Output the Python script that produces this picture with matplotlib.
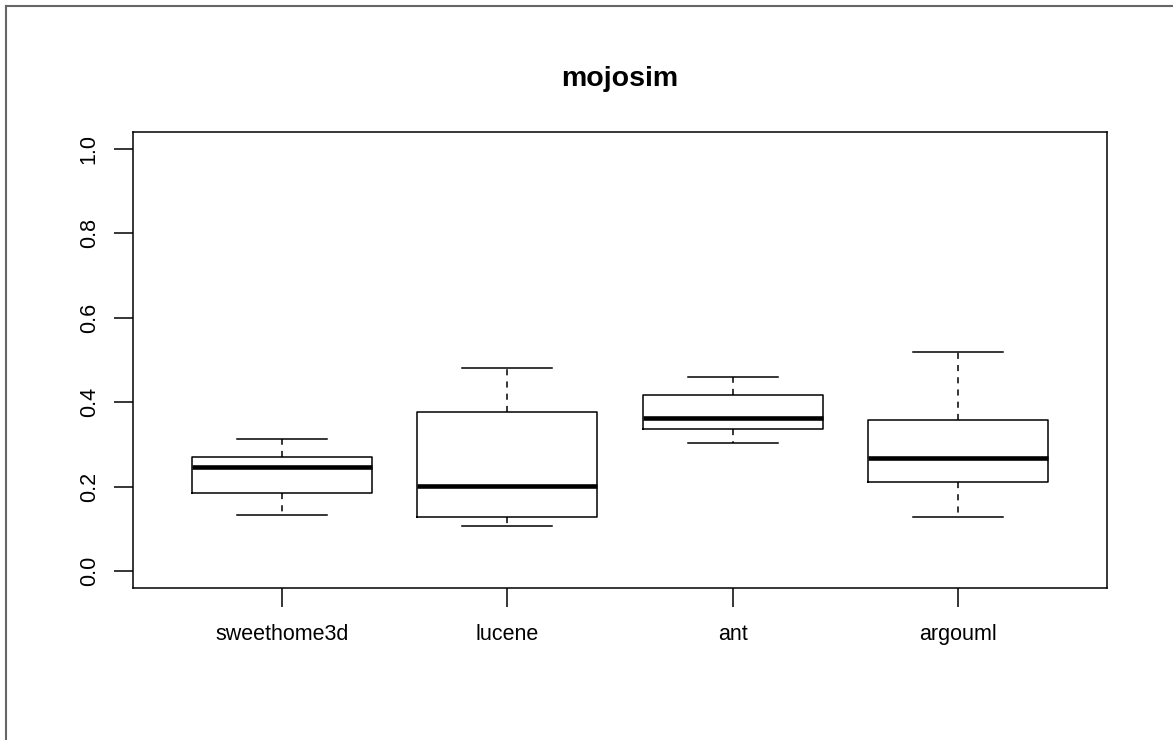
import matplotlib
matplotlib.use("Agg")
import matplotlib.pyplot as plt
from matplotlib.lines import Line2D

plt.rcParams['font.family'] = ['Liberation Sans', 'DejaVu Sans']

# data
projects = ["sweethome3d", "lucene", "ant", "argouml"]
whislo = [0.132, 0.106, 0.303, 0.128]
q1 = [0.184, 0.128, 0.336, 0.210]
med = [0.246, 0.201, 0.362, 0.267]
q3 = [0.270, 0.376, 0.416, 0.357]
whishi = [0.312, 0.482, 0.459, 0.518]

stats = []
for i in range(len(projects)):
    stats.append({"label": projects[i], "whislo": whislo[i], "q1": q1[i],
                  "med": med[i], "q3": q3[i], "whishi": whishi[i], "fliers": []})

fig = plt.figure(figsize=(11.73, 7.40), dpi=100)
ax = fig.add_axes([133/1173, 152/740, 974/1173, 456/740])

ax.bxp(stats, positions=range(1, 5), widths=0.8, capwidths=0.4,
       showfliers=False, patch_artist=False,
       boxprops=dict(color="black", linewidth=1.1),
       whiskerprops=dict(color="black", linewidth=1.1, linestyle=(0, (4, 4))),
       capprops=dict(color="black", linewidth=1.1),
       medianprops=dict(color="black", linewidth=3.3, solid_capstyle="butt"))

ax.set_xlim(0.34, 4.66)
ax.set_ylim(-0.04, 1.04)

# R-style axes
for s in ax.spines.values():
    s.set_linewidth(1.1)
ax.set_yticks([0.0, 0.2, 0.4, 0.6, 0.8, 1.0])
ax.set_yticklabels(["0.0", "0.2", "0.4", "0.6", "0.8", "1.0"], rotation=90, va="center")
ax.set_xticks(range(1, 5))
ax.set_xticklabels(projects)
ax.tick_params(axis="both", direction="out", length=14, width=1.1, labelsize=15.5,
               color="black")
ax.tick_params(axis="x", pad=12)
ax.tick_params(axis="y", pad=10)

ax.set_title("mojosim", fontsize=20.5, fontweight="bold", pad=33)

# outer frame on the top and left of the image
fig.add_artist(Line2D([6/1173, 1], [1 - 6/740, 1 - 6/740], color="#666666", linewidth=1.5))
fig.add_artist(Line2D([6/1173, 6/1173], [0, 1 - 6/740], color="#666666", linewidth=1.5))

fig.savefig("out.png", dpi=100)
